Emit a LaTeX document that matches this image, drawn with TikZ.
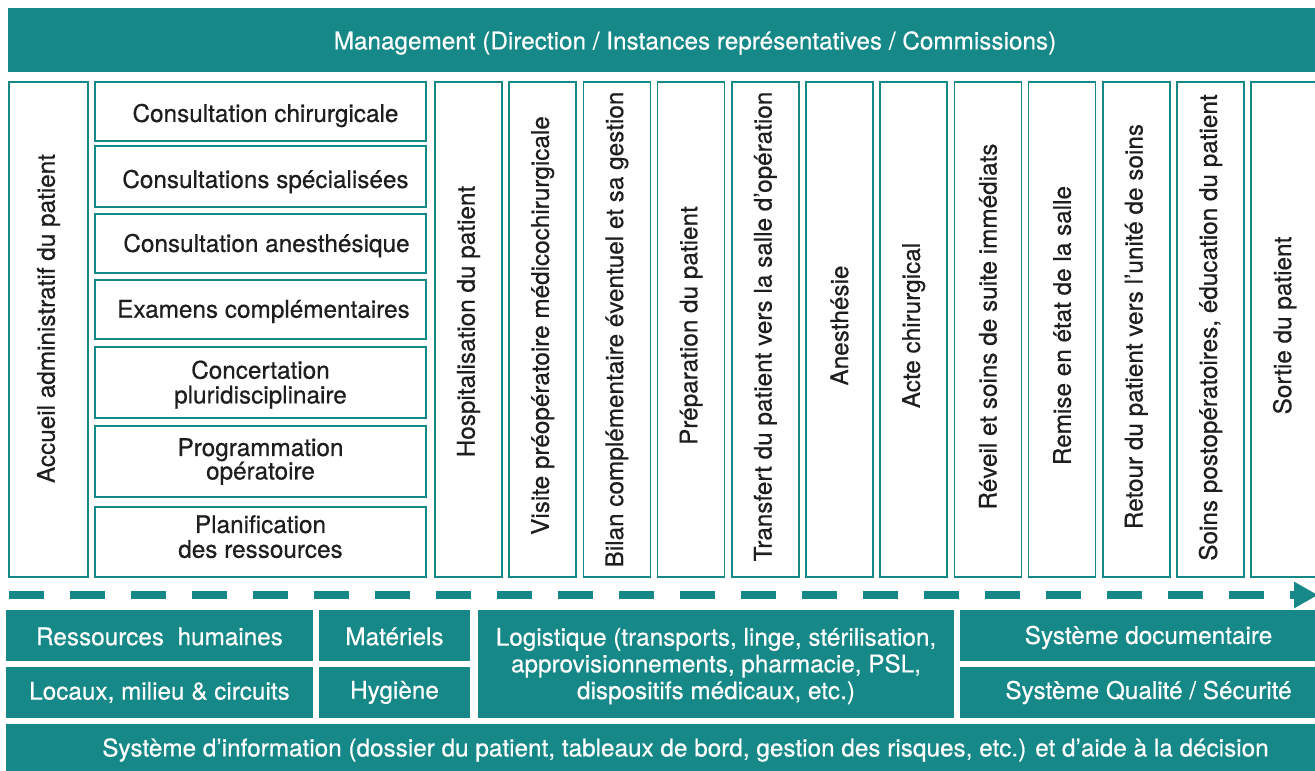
\documentclass[tikz,border=0pt]{standalone}
\usepackage{fontspec}
\setmainfont{TeX Gyre Heros}[FakeBold=0.5]
\usetikzlibrary{arrows.meta}
\definecolor{tealc}{RGB}{23,136,136}
\definecolor{ink}{RGB}{30,30,30}
\newcommand{\dn}[2]{\raisebox{-#1}[\height][\depth]{#2}}
\begin{document}
\begin{tikzpicture}[x=1pt,y=-1pt,
  txt/.style={font=\fontsize{24.3}{23.5}\selectfont},
  wbox/.style={draw=tealc, line width=1.6pt, fill=white, inner sep=0pt, text=ink, align=center, txt},
  tbox/.style={fill=tealc, draw=none, inner sep=0pt, text=white, align=center, txt},
  flow/.style={draw=tealc, line width=8pt, dash pattern=on 35pt off 26pt, -{Triangle[length=24pt,width=25pt]}}
]
\useasboundingbox (0,0) rectangle (1315,771);
\clip (0,0) rectangle (1315,771);
% top bar
\node[tbox, minimum width=1374pt, minimum height=64pt] (mgmt) at (695,40) {\dn{3pt}{Management (Direction / Instances représentatives / Commissions)}};
% first column
\node[wbox, minimum width=79pt, minimum height=495pt] (accueil) at (48.5,329.5) {\rotatebox{90}{\hspace*{22pt}Accueil administratif du patient}};
% sub boxes
\node[wbox, minimum width=331pt, minimum height=59pt] (s1) at (260.5,111.5) {\dn{4pt}{\hspace*{10pt}Consultation chirurgicale}};
\node[wbox, minimum width=331pt, minimum height=61pt] (s2) at (260.5,176.5) {\dn{5pt}{\hspace*{10pt}Consultations spécialisées}};
\node[wbox, minimum width=331pt, minimum height=59pt] (s3) at (260.5,243.5) {\dn{2pt}{\hspace*{12pt}Consultation anesthésique}};
\node[wbox, minimum width=331pt, minimum height=59pt] (s4) at (260.5,309.5) {\dn{2pt}{\hspace*{6pt}Examens complémentaires}};
\node[wbox, minimum width=331pt, minimum height=71pt] (s5) at (260.5,382.5) {\dn{3pt}{\begin{tabular}{@{}c@{}}Concertation\\pluridisciplinaire\end{tabular}}};
\node[wbox, minimum width=331pt, minimum height=71pt] (s6) at (260.5,461.5) {Programmation\\opératoire};
\node[wbox, minimum width=331pt, minimum height=70pt] (s7) at (260.5,542) {\dn{-2pt}{\begin{tabular}{@{}c@{}}Planification\\des ressources\end{tabular}}};
% process columns
\foreach \i/\s/\t in {0/16/{Hospitalisation du patient},
                   1/8/{Visite préopératoire médicochirurgicale},
                   2/0/{Bilan complémentaire éventuel et sa gestion},
                   3/8/{Préparation du patient},
                   4/6/{Transfert du patient vers la salle d’opération},
                   5/8/{Anesthésie},
                   6/8/{Acte chirurgical},
                   7/6/{Réveil et soins de suite immédiats},
                   8/8/{Remise en état de la salle},
                   9/6/{Retour du patient vers l’unité de soins},
                   10/4/{Soins postopératoires, éducation du patient},
                   11/8/{Sortie du patient}}{
  \node[wbox, minimum width=67pt, minimum height=495pt] (col\i) at ({468.5+74.2*\i},329.5) {\rotatebox{90}{\hspace*{\s pt}\t}};
}
% flow arrow
\coordinate (fstart) at (9,595);
\coordinate (fend) at (1318,595);
\draw[flow] (fstart) -- (fend);
% bottom boxes
\node[tbox, minimum width=307pt, minimum height=51pt] (rh) at (159.5,635.5) {\dn{1pt}{Ressources\ \ humaines}};
\node[tbox, minimum width=307pt, minimum height=51pt] (loc) at (159.5,692.5) {Locaux, milieu \& circuits};
\node[tbox, minimum width=151pt, minimum height=51pt] (mat) at (394.5,635.5) {\dn{1pt}{Matériels}};
\node[tbox, minimum width=151pt, minimum height=51pt] (hyg) at (394.5,692.5) {Hygiène};
\node[tbox, minimum width=476pt, minimum height=108pt, font=\fontsize{24.3}{26.7}\selectfont] (log) at (716,664) {\dn{3pt}{\begin{tabular}{@{}c@{}}Logistique (transports, linge, stérilisation,\\approvisionnements, pharmacie, PSL,\\dispositifs médicaux, etc.)\end{tabular}}};
\node[tbox, minimum width=377pt, minimum height=51pt] (doc) at (1148.5,635.5) {\dn{2pt}{Système documentaire}};
\node[tbox, minimum width=377pt, minimum height=51pt] (qual) at (1148.5,692.5) {Système Qualité / Sécurité};
\node[tbox, minimum width=1359pt, minimum height=52pt] (si) at (685.5,750) {Système d’information (dossier du patient, tableaux de bord, gestion des risques, etc.) et d’aide à la décision};
\end{tikzpicture}
\end{document}
